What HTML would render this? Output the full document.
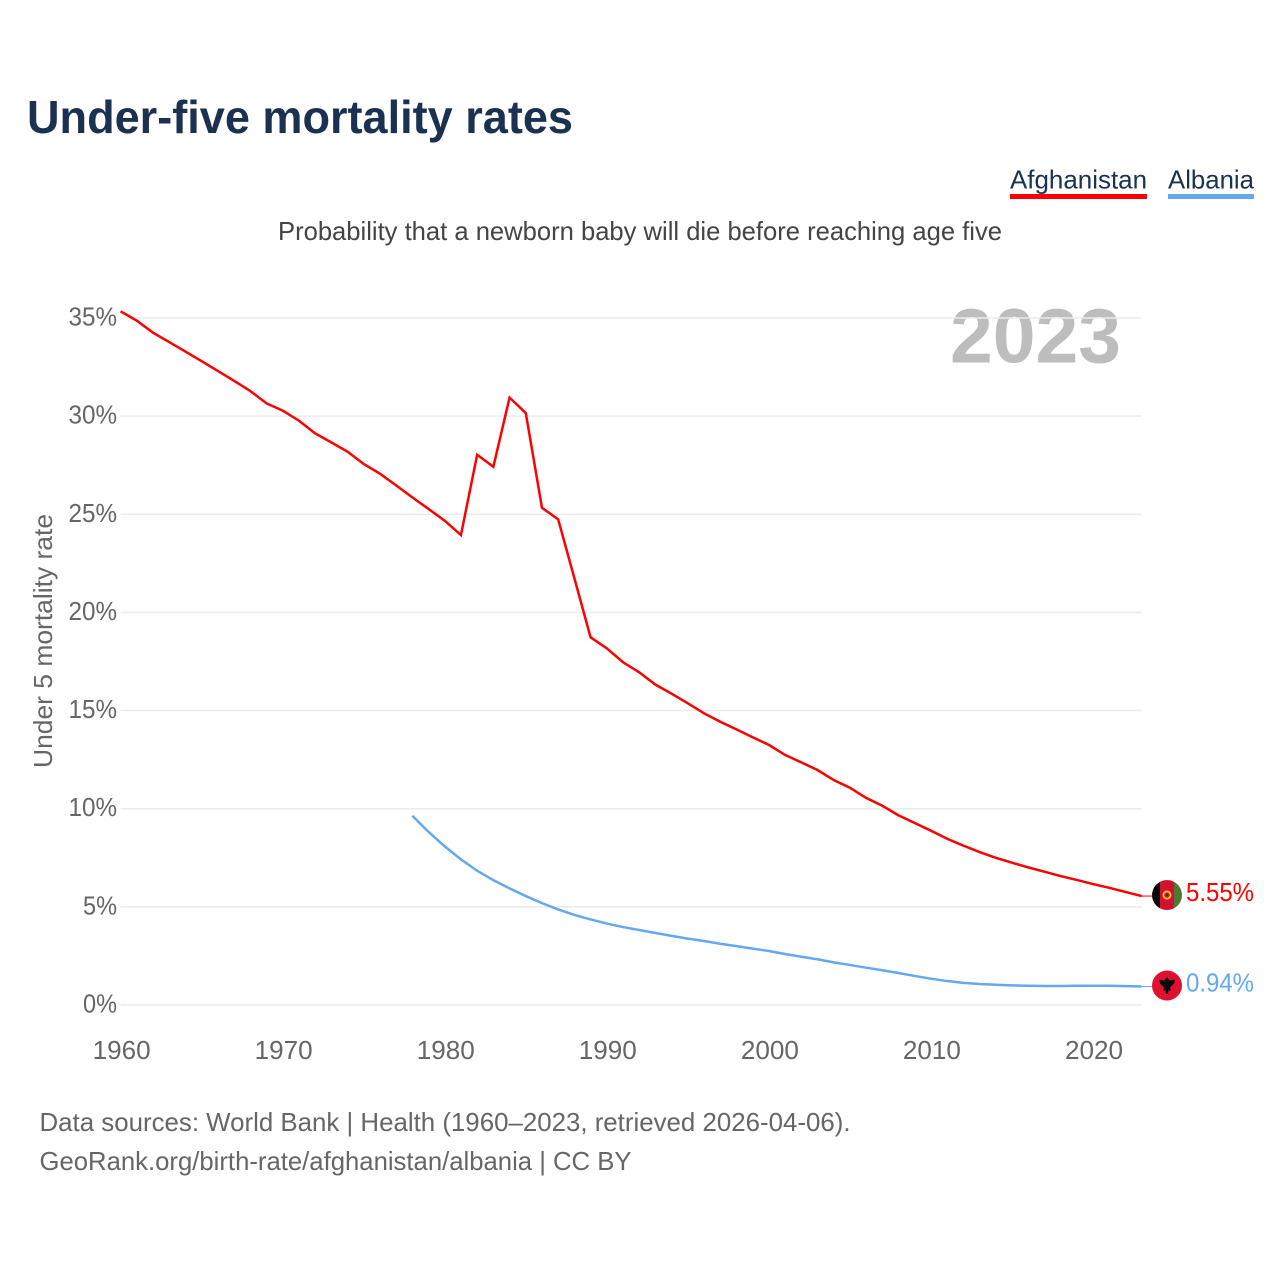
<!DOCTYPE html>
<html lang="en">
<head>
<meta charset="utf-8">
<title>Under-five mortality rates</title>
<style>
  html, body { margin: 0; padding: 0; background: #fff; }
  body { width: 1280px; height: 1280px; overflow: hidden; }
  svg { display: block; font-family: "Liberation Sans", Arial, sans-serif; }
</style>
</head>
<body>
<svg id="chart" xmlns="http://www.w3.org/2000/svg" width="1280" height="1280" viewBox="0 0 1280 1280">
  <rect x="0" y="0" width="1280" height="1280" fill="#ffffff"/>
  <text x="27" y="133" font-size="46" font-weight="700" fill="#1a3152" textLength="546" lengthAdjust="spacingAndGlyphs">Under-five mortality rates</text>

  <g>
    <text x="1010" y="188.5" font-size="26" fill="#1a3152" textLength="137" lengthAdjust="spacingAndGlyphs">Afghanistan</text>
    <rect x="1010" y="194" width="137" height="5" fill="#ff0000"/>
  </g>
  <g>
    <text x="1168" y="188.5" font-size="26" fill="#1a3152" textLength="86" lengthAdjust="spacingAndGlyphs">Albania</text>
    <rect x="1168" y="194" width="86" height="5" fill="#64a8ef"/>
  </g>

  <text x="278" y="240" font-size="26" fill="#444444" textLength="724" lengthAdjust="spacingAndGlyphs">Probability that a newborn baby will die before reaching age five</text>

  <text x="950" y="362.5" font-size="77" font-weight="700" fill="#bdbdbd" textLength="171" lengthAdjust="spacingAndGlyphs">2023</text>
  <g id="grid-layer"></g>
  <g id="y-tick-layer"></g>
  <g id="x-tick-layer"></g>
  <text transform="translate(52 641) rotate(-90)" text-anchor="middle" font-size="26" fill="#666666" textLength="254" lengthAdjust="spacingAndGlyphs">Under 5 mortality rate</text>
  <g id="series-layer"></g>

  <g id="flag-afghanistan">
    <clipPath id="afg-clip"><circle cx="0" cy="0" r="15"/></clipPath>
    <g clip-path="url(#afg-clip)">
      <rect x="-15" y="-15" width="8" height="30" fill="#050505"/>
      <rect x="-7" y="-15" width="14" height="30" fill="#d3112f"/>
      <rect x="7" y="-15" width="8" height="30" fill="#4c7a34"/>
    </g>
    <circle cx="0" cy="0" r="3.6" fill="none" stroke="#f4c430" stroke-width="1.8"/>
    <circle cx="0" cy="0" r="1" fill="#3a2a10"/>
  </g>
  <g id="flag-albania">
    <circle cx="0" cy="0" r="15" fill="#e0112f"/>
    <polygon fill="#0a0a0a" points="-8,-6 -3,-5 -1.5,-6.5 0,-8.5 1.5,-6.5 3,-5 8,-6 7,-2 4.5,0.5 3,2 4,5 1.5,5 1,8.5 -1,8.5 -1.5,5 -4,5 -3,2 -4.5,0.5 -7,-2"/>
  </g>
  <text id="end-label-afghanistan" x="1186" font-size="26" fill="#ff0000" textLength="68" lengthAdjust="spacingAndGlyphs"></text>
  <text id="end-label-albania" x="1186" font-size="26" fill="#64a8ef" textLength="68" lengthAdjust="spacingAndGlyphs"></text>

  <text x="39.5" y="1131" font-size="26" fill="#666666" textLength="811" lengthAdjust="spacingAndGlyphs">Data sources: World Bank | Health (1960–2023, retrieved 2026-04-06).</text>
  <a><text x="39.5" y="1170" font-size="26" fill="#666666" textLength="592" lengthAdjust="spacingAndGlyphs">GeoRank.org/birth-rate/afghanistan/albania | CC BY</text></a>
</svg>

<script>
const afghanistanYears = [1960,1961,1962,1963,1964,1965,1966,1967,1968,1969,1970,1971,1972,1973,1974,1975,1976,1977,1978,1979,1980,1981,1982,1983,1984,1985,1986,1987,1988,1989,1990,1991,1992,1993,1994,1995,1996,1997,1998,1999,2000,2001,2002,2003,2004,2005,2006,2007,2008,2009,2010,2011,2012,2013,2014,2015,2016,2017,2018,2019,2020,2021,2022,2023];
const afghanistanValues = [35.34,34.86,34.25,33.77,33.29,32.8,32.3,31.8,31.28,30.65,30.28,29.77,29.12,28.66,28.19,27.56,27.07,26.47,25.86,25.27,24.67,23.94,28.03,27.42,30.94,30.16,25.33,24.74,21.74,18.73,18.17,17.46,16.95,16.32,15.86,15.37,14.86,14.43,14.04,13.64,13.25,12.74,12.36,11.97,11.46,11.07,10.55,10.15,9.66,9.27,8.88,8.47,8.12,7.79,7.5,7.25,7.01,6.79,6.57,6.37,6.16,5.97,5.76,5.55];
const albaniaYears = [1978,1979,1980,1981,1982,1983,1984,1985,1986,1987,1988,1989,1990,1991,1992,1993,1994,1995,1996,1997,1998,1999,2000,2001,2002,2003,2004,2005,2006,2007,2008,2009,2010,2011,2012,2013,2014,2015,2016,2017,2018,2019,2020,2021,2022,2023];
const albaniaValues = [9.64,8.82,8.08,7.42,6.84,6.36,5.94,5.55,5.19,4.87,4.59,4.36,4.15,3.97,3.82,3.67,3.52,3.38,3.26,3.12,3.0,2.87,2.75,2.6,2.46,2.33,2.17,2.04,1.9,1.77,1.63,1.48,1.34,1.22,1.13,1.07,1.03,1.0,0.98,0.97,0.97,0.98,0.98,0.98,0.96,0.94];
const yTickValues = [0,5,10,15,20,25,30,35];
const xTickValues = [1960,1970,1980,1990,2000,2010,2020];

const NS = 'http://www.w3.org/2000/svg';
function xScale(year) { return 120.6 + (year - 1960) * (1141.6 - 120.6) / 63; }
function yScale(value) { return 1005 - value * 19.63; }
function make(tag, parent) {
  const el = document.createElementNS(NS, tag);
  parent.appendChild(el);
  return el;
}

const gridLayer = document.getElementById('grid-layer');
const yTickLayer = document.getElementById('y-tick-layer');
yTickValues.forEach(function (v) {
  const line = make('line', gridLayer);
  
  
  line.setAttribute('x1', xScale(1960));
  line.setAttribute('x2', xScale(2023));
  line.setAttribute('y1', yScale(v));
  line.setAttribute('y2', yScale(v));
  line.setAttribute('stroke', '#ebebeb');
  line.setAttribute('stroke-width', '1.5');

  const label = make('text', yTickLayer);
  
  
  label.setAttribute('x', 117);
  label.setAttribute('y', yScale(v) + 7.5);
  label.setAttribute('text-anchor', 'end');
  label.setAttribute('font-size', '26');
  label.setAttribute('fill', '#666666');
  label.setAttribute('textLength', String(v).length * 14.5 + 19.5);
  label.setAttribute('lengthAdjust', 'spacingAndGlyphs');
  label.textContent = v + '%';
});

const xTickLayer = document.getElementById('x-tick-layer');
xTickValues.forEach(function (yr) {
  const label = make('text', xTickLayer);
  
  
  label.setAttribute('x', xScale(yr) + 1);
  label.setAttribute('y', 1059);
  label.setAttribute('text-anchor', 'middle');
  label.setAttribute('font-size', '26');
  label.setAttribute('fill', '#666666');
  label.setAttribute('textLength', '58');
  label.setAttribute('lengthAdjust', 'spacingAndGlyphs');
  label.textContent = yr;
});

function pathFrom(years, values) {
  return years.map(function (yr, i) {
    return (i ? 'L' : 'M') + xScale(yr).toFixed(2) + ' ' + yScale(values[i]).toFixed(2);
  }).join(' ');
}

const seriesLayer = document.getElementById('series-layer');

const redLine = make('path', seriesLayer);


redLine.setAttribute('d', pathFrom(afghanistanYears, afghanistanValues));
redLine.setAttribute('fill', 'none');
redLine.setAttribute('stroke', '#ff0000');
redLine.setAttribute('stroke-width', '2.5');

const blueLine = make('path', seriesLayer);


blueLine.setAttribute('d', pathFrom(albaniaYears, albaniaValues));
blueLine.setAttribute('fill', 'none');
blueLine.setAttribute('stroke', '#64a8ef');
blueLine.setAttribute('stroke-width', '2.5');

const lastRed = afghanistanValues[afghanistanValues.length - 1];
const lastBlue = albaniaValues[albaniaValues.length - 1];

const redLeader = make('line', seriesLayer);


redLeader.setAttribute('x1', xScale(2023));
redLeader.setAttribute('x2', 1153);
redLeader.setAttribute('y1', yScale(lastRed));
redLeader.setAttribute('y2', yScale(lastRed));
redLeader.setAttribute('stroke', '#ff0000');
redLeader.setAttribute('stroke-width', '1');

const blueLeader = make('line', seriesLayer);


blueLeader.setAttribute('x1', xScale(2023));
blueLeader.setAttribute('x2', 1153);
blueLeader.setAttribute('y1', yScale(lastBlue));
blueLeader.setAttribute('y2', yScale(lastBlue));
blueLeader.setAttribute('stroke', '#64a8ef');
blueLeader.setAttribute('stroke-width', '1');

document.getElementById('flag-afghanistan').setAttribute('transform', 'translate(1167 ' + (yScale(lastRed) - 1) + ')');
document.getElementById('flag-albania').setAttribute('transform', 'translate(1167 ' + (yScale(lastBlue) - 1) + ')');

const redEnd = document.getElementById('end-label-afghanistan');
redEnd.setAttribute('y', yScale(lastRed) + 5);
redEnd.textContent = lastRed.toFixed(2) + '%';

const blueEnd = document.getElementById('end-label-albania');
blueEnd.setAttribute('y', yScale(lastBlue) + 5);
blueEnd.textContent = lastBlue.toFixed(2) + '%';
</script>
</body>
</html>
